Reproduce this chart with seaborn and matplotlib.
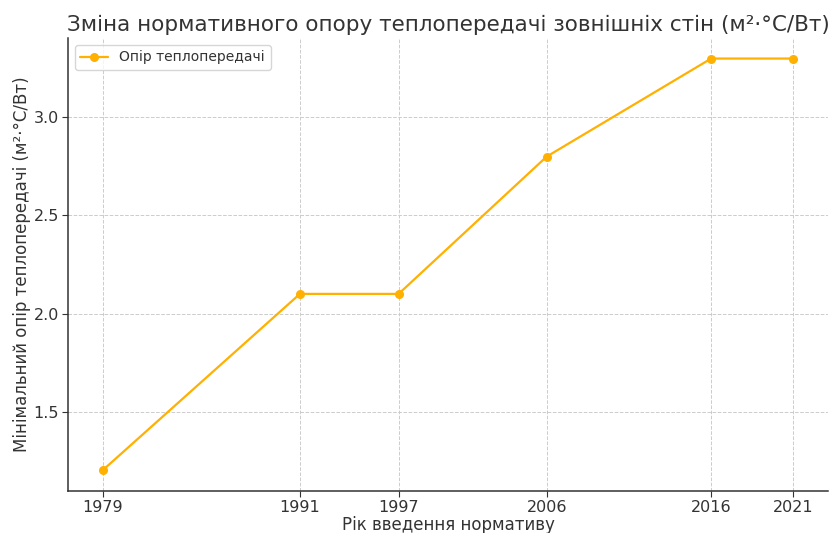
import matplotlib
matplotlib.use("Agg")
import matplotlib.pyplot as plt
import seaborn as sns
import pandas as pd

years = [1979, 1991, 1997, 2006, 2016, 2021]
values = [1.2, 2.1, 2.1, 2.8, 3.3, 3.3]
series_label = "Опір теплопередачі"
title = "Зміна нормативного опору теплопередачі зовнішніх стін (м²·°C/Вт)"
xlabel = "Рік введення нормативу"
ylabel = "Мінімальний опір теплопередачі (м²·°C/Вт)"

sns.set_style("white")
plt.rcParams['font.family'] = ['DejaVu Sans']

df = pd.DataFrame({"year": years, "value": values})

fig = plt.figure(figsize=(8.37, 5.33), dpi=100)
ax = fig.add_axes([0.0812, 0.0788, 0.908, 0.850])
sns.lineplot(data=df, x="year", y="value", ax=ax, color="#FFB000",
             marker="o", markersize=6.5, markeredgewidth=0, linewidth=1.6,
             label=series_label)

ax.set_xticks(years)
ax.set_xticklabels([str(y) for y in years])
ax.set_yticks([1.5, 2.0, 2.5, 3.0])
ax.tick_params(axis='both', labelsize=11.5, colors='#333333', length=4, width=0.8,
               left=True, bottom=True, pad=2.5)
ax.grid(True, linestyle='--', linewidth=0.7, color='#cccccc')
for s in ['top', 'right']:
    ax.spines[s].set_visible(False)
for s in ['left', 'bottom']:
    ax.spines[s].set_color('#333333')
    ax.spines[s].set_linewidth(1.1)
ax.set_xlabel(xlabel, fontsize=12, color='#333333', labelpad=1)
ax.set_ylabel(ylabel, fontsize=12, color='#333333', labelpad=2)
ax.set_title(title, fontsize=15.5, color='#333333', pad=5)
leg = ax.legend(loc='upper left', fontsize=10, frameon=True)
for t in leg.get_texts():
    t.set_color('#333333')

fig.savefig("out.png", dpi=100)
